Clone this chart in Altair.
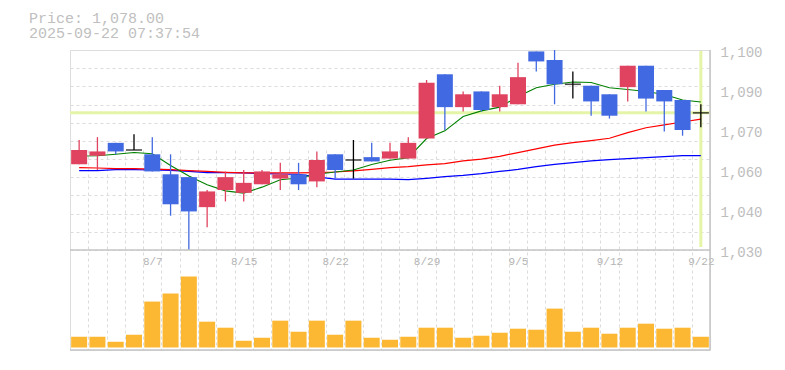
import json
import altair as alt
import numpy as np
import pandas as pd

# ---------------- data ----------------
dates = ["8/1", "8/4", "8/5", "8/6", "8/7", "8/8", "8/12", "8/13", "8/14", "8/15",
         "8/18", "8/19", "8/20", "8/21", "8/22", "8/25", "8/26", "8/27", "8/28", "8/29",
         "9/1", "9/2", "9/3", "9/4", "9/5", "9/8", "9/9", "9/10", "9/11", "9/12",
         "9/16", "9/17", "9/18", "9/19", "9/22"]
opens = [1060, 1063, 1067.5, 1065, 1063.5, 1056.5, 1055.5, 1045, 1051, 1050,
         1053, 1055, 1056.5, 1054, 1063.5, 1061.5, 1062.5, 1062, 1062, 1069,
         1091.5, 1080, 1085.5, 1080, 1081, 1099.5, 1096.5, 1088, 1087.5, 1084.5,
         1087, 1094.5, 1086, 1082.5, 1078]
highs = [1068.5, 1069.5, 1067.5, 1070.5, 1069.5, 1063.5, 1055.5, 1051, 1057.5, 1058,
         1058, 1060.5, 1060.5, 1064.5, 1063.5, 1068.5, 1067.5, 1067.5, 1069.5, 1089.5,
         1091.5, 1085.5, 1085.5, 1087.5, 1095.5, 1099.5, 1100, 1092.5, 1087.5, 1084.5,
         1094.5, 1094.5, 1086, 1082.5, 1081]
lows = [1060, 1058, 1063.5, 1065, 1057.5, 1042, 1030, 1038, 1047, 1047,
        1053, 1051, 1051, 1052, 1055, 1055, 1061, 1062, 1062, 1069,
        1072, 1078.5, 1078.5, 1078.5, 1081, 1092.5, 1081, 1083, 1077, 1076,
        1082, 1078.5, 1071.5, 1070, 1073]
closes = [1065, 1064.5, 1064.5, 1065, 1057.5, 1046, 1043.5, 1050.5, 1055.5, 1053.5,
          1057.5, 1056.5, 1053, 1061.5, 1058, 1061.5, 1061, 1064.5, 1067.5, 1088.5,
          1080, 1084.5, 1079, 1084.5, 1090.5, 1096, 1088, 1088, 1082, 1077,
          1094.5, 1083, 1082, 1072, 1078]
ma_short = [1062.9, 1063.0, 1063.5, 1064.1, 1063.7, 1059.6, 1055.9, 1052.8, 1050.7, 1049.9,
            1052.0, 1054.6, 1055.2, 1056.5, 1057.3, 1058.0, 1059.9, 1061.4, 1062.3, 1069.0,
            1071.7, 1076.7, 1078.7, 1080.0, 1083.7, 1086.8, 1088.0, 1088.8, 1088.6, 1086.8,
            1086.2, 1085.5, 1084.4, 1082.5, 1081.8]
ma_mid = [1058.8, 1058.7, 1058.5, 1058.5, 1058.3, 1058.1, 1057.8, 1057.5, 1057.2, 1057.0,
          1057.0, 1057.0, 1057.0, 1057.1, 1057.3, 1057.7, 1058.2, 1058.8, 1059.2, 1059.8,
          1060.2, 1061.2, 1061.8, 1062.8, 1064.1, 1065.4, 1066.7, 1067.6, 1068.3, 1069.1,
          1071.1, 1072.8, 1073.8, 1074.8, 1075.8]
ma_long = [1057.8, 1057.8, 1058.1, 1058.1, 1058.0, 1057.9, 1057.5, 1057.1, 1057.1, 1057.0,
           1056.7, 1056.6, 1056.5, 1055.6, 1054.8, 1054.8, 1054.8, 1054.8, 1054.6, 1055.1,
           1055.7, 1056.1, 1056.7, 1057.5, 1058.2, 1059.2, 1060.0, 1060.6, 1061.2, 1061.6,
           1062.0, 1062.3, 1062.7, 1063.0, 1063.0]
volumes = [107, 107, 57, 127, 457, 537, 707, 257, 197, 67,
           97, 267, 157, 267, 127, 267, 97, 77, 107, 197,
           197, 97, 117, 147, 187, 177, 387, 157, 197, 137,
           197, 237, 187, 197, 107]
label_dates = ["8/7", "8/15", "8/22", "8/29", "9/5", "9/12", "9/22"]
price_ticks = [1030, 1044, 1058, 1072, 1086, 1100]
price_domain = [1030, 1100]
volume_domain = [0, 970]
current_price = 1078.0
current_date = "9/22"
header_lines = ["Price: 1,078.00", "2025-09-22 07:37:54"]

# ---------------- styling ----------------
W, H = 640, 300
PRICE_H = 200
VOL_BASE = 297.5
FONT = "Liberation Mono"
UP, DOWN, FLAT = "#e0435f", "#4169e1", "#000000"
GRID = "#dcdcdc"
FRAME = "#c4c4c4"

df = pd.DataFrame({"date": dates, "open": opens, "high": highs, "low": lows,
                   "close": closes, "ma_s": ma_short, "ma_m": ma_mid,
                   "ma_l": ma_long, "volume": volumes})
df["dir"] = np.where(df["close"] > df["open"], "up",
                     np.where(df["close"] < df["open"], "down", "flat"))
cross = pd.DataFrame({"date": [current_date], "price": [current_price]})

price_scale = alt.Scale(domain=price_domain, range=[PRICE_H, 0], zero=False, nice=False)
vol_scale = alt.Scale(domain=volume_domain, range=[VOL_BASE, PRICE_H], zero=False, nice=False)
x_scale = alt.Scale(type="band", domain=dates, paddingInner=0, paddingOuter=0)
color_scale = alt.Scale(domain=["up", "down", "flat"], range=[UP, DOWN, FLAT])

label_expr = "indexof(" + json.dumps(label_dates) + ", datum.value) >= 0 ? datum.value : ''"
x_axis = alt.Axis(title=None, grid=True, tickBand="extent", gridDash=[3, 3],
                  gridColor=GRID, gridWidth=1, domain=False, ticks=False,
                  labelAngle=0, labelExpr=label_expr, labelFont=FONT,
                  labelFontSize=11, labelColor="#b4b4b4", labelPadding=0,
                  labelBaseline="middle", labelOverlap=False, offset=-88.5)
X = alt.X("date:O", scale=x_scale, axis=x_axis)

grid_vals = [price_domain[0] + i * (price_domain[1] - price_domain[0]) / 11 for i in range(12)]
y_grid_axis = alt.Axis(orient="left", values=grid_vals, grid=True, gridDash=[3, 3],
                       gridColor=GRID, labels=False, ticks=False, domain=False, title=None)
y_label_axis = alt.Axis(orient="right", values=price_ticks, grid=False, ticks=False,
                        domain=False, title=None,
                        labelExpr="format(round(datum.value / 10) * 10, ',')",
                        labelFont=FONT, labelFontSize=14, labelColor="#bdbdbd",
                        labelPadding=10, labelFlush=False, labelOverlap=False,
                        labelBaseline="middle", labelOffset=2.5)

base = alt.Chart(df)

h_cross = alt.Chart(cross).mark_rule(color="#e4f5a8", strokeWidth=3).encode(
    x=alt.value(0), x2=alt.value(W),
    y=alt.Y("price:Q", scale=price_scale, axis=y_grid_axis))
v_cross = alt.Chart(cross).mark_rule(color="#e4f5a8", strokeWidth=3).encode(
    x=X, y=alt.value(1), y2=alt.value(PRICE_H - 3))

line_long = base.mark_line(color="#0000ff", strokeWidth=1.2).encode(
    x=X, y=alt.Y("ma_l:Q", scale=price_scale, axis=y_label_axis))
line_mid = base.mark_line(color="#ff0000", strokeWidth=1.2).encode(
    x=X, y=alt.Y("ma_m:Q", scale=price_scale, axis=None))
line_short = base.mark_line(color="#008000", strokeWidth=1.1).encode(
    x=X, y=alt.Y("ma_s:Q", scale=price_scale, axis=None))

wicks = base.mark_rule(strokeWidth=1.3).encode(
    x=X, y=alt.Y("low:Q", scale=price_scale, axis=None), y2="high:Q",
    color=alt.Color("dir:N", scale=color_scale, legend=None))
bodies = base.mark_bar(width=16).encode(
    x=X, y=alt.Y("open:Q", scale=price_scale, axis=None), y2="close:Q",
    color=alt.Color("dir:N", scale=color_scale, legend=None))
dojis = base.transform_filter("datum.open == datum.close").mark_tick(
    color=FLAT, thickness=1.6, size=16).encode(
    x=X, y=alt.Y("close:Q", scale=price_scale, axis=None))

vol = base.mark_bar(width=16, color="#fdb833").encode(
    x=X, y=alt.Y("volume:Q", scale=vol_scale, axis=None))

frame_df = pd.DataFrame({"k": [0]})
right_border = alt.Chart(frame_df).mark_rule(color=FRAME, strokeWidth=1.5).encode(
    x=alt.value(W), y=alt.value(0), y2=alt.value(H))
mid_border = alt.Chart(frame_df).mark_rule(color=FRAME, strokeWidth=1.5).encode(
    x=alt.value(0), x2=alt.value(W), y=alt.value(PRICE_H))
bottom_border = alt.Chart(frame_df).mark_rule(color=FRAME, strokeWidth=1.5).encode(
    x=alt.value(0), x2=alt.value(W), y=alt.value(H))

header_y = [-32.5, -17]
headers = [
    alt.Chart(pd.DataFrame({"t": [line]})).mark_text(
        align="left", baseline="middle", font=FONT, fontSize=15, color="#c0c0c0"
    ).encode(x=alt.value(-41), y=alt.value(yy), text="t:N")
    for line, yy in zip(header_lines, header_y)
]

chart = alt.layer(
    h_cross, v_cross, line_long, line_mid, line_short, wicks, bodies, dojis, vol,
    right_border, mid_border, bottom_border, *headers
).resolve_scale(y="independent").properties(
    width=W, height=H,
    padding={"left": 62, "top": 42, "right": 60, "bottom": 5},
    autosize=alt.AutoSizeParams(type="none"),
).configure_view(stroke=None).configure(background="white")

chart.save("out.html", embed_options={"renderer": "svg", "actions": False})
